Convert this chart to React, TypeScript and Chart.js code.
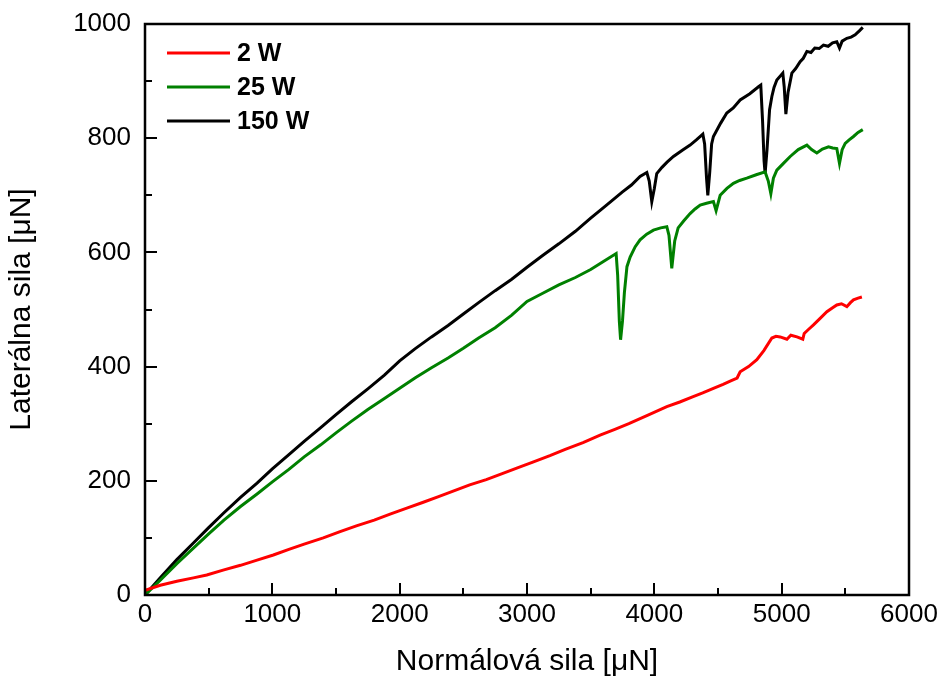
import React, { useEffect, useRef } from "react";
import { Chart, registerables } from "chart.js";

Chart.register(...registerables);

const seriesLabels = ["2 W", "25 W", "150 W"];
const seriesColors = ["#ff0000", "#008000", "#000000"];

const xTitle = "Normálová sila [μN]";
const yTitle = "Laterálna sila [μN]";

const xMin = 0;
const xMax = 6000;
const xStep = 1000;
const yMin = 0;
const yMax = 1000;
const yStep = 200;

const x2W = [0, 120, 250, 380, 485, 620, 750, 880, 1008, 1130, 1250, 1400, 1532, 1660, 1800, 1930, 2056, 2180, 2300, 2420, 2550, 2680, 2800, 2930, 3051, 3180, 3300, 3440, 3574, 3690, 3800, 3950, 4098, 4200, 4300, 4380, 4464, 4540, 4600, 4650, 4674, 4740, 4805, 4860, 4923, 4955, 4988, 5041, 5072, 5120, 5166, 5177, 5210, 5250, 5300, 5355, 5400, 5433, 5470, 5512, 5540, 5564, 5600, 5630];
const y2W = [8, 17, 24, 30, 35, 44, 52, 61, 70, 80, 89, 100, 111, 121, 131, 142, 152, 162, 172, 182, 193, 202, 212, 223, 233, 244, 255, 267, 280, 290, 300, 315, 330, 338, 347, 354, 362, 369, 375, 380, 391, 400, 412, 428, 450, 453, 452, 448, 455, 452, 448, 458, 465, 473, 484, 496, 503, 508, 510, 505, 512, 517, 520, 522];

const x25W = [0, 120, 250, 380, 500, 620, 750, 880, 1000, 1130, 1250, 1380, 1500, 1620, 1750, 1880, 2000, 2120, 2250, 2380, 2500, 2620, 2750, 2880, 3000, 3120, 3250, 3380, 3500, 3600, 3700, 3712, 3725, 3735, 3750, 3765, 3785, 3810, 3850, 3888, 3940, 3993, 4050, 4098, 4115, 4137, 4160, 4187, 4230, 4281, 4320, 4360, 4410, 4464, 4485, 4517, 4570, 4621, 4670, 4726, 4800, 4870, 4895, 4915, 4935, 4962, 5010, 5067, 5130, 5198, 5235, 5276, 5320, 5368, 5400, 5433, 5454, 5475, 5499, 5530, 5564, 5600, 5637];
const y25W = [0, 26, 55, 82, 107, 131, 155, 177, 198, 220, 242, 263, 284, 304, 325, 344, 362, 380, 398, 415, 432, 450, 468, 490, 514, 528, 543, 556, 570, 584, 598, 560, 480, 447, 480, 530, 575, 592, 610, 622, 632, 639, 643, 645, 630, 572, 620, 643, 655, 668, 676, 683, 686, 689, 673, 700, 712, 721, 726, 730, 736, 741, 725, 703, 730, 744, 755, 768, 780, 788, 780, 774, 781, 785, 783, 782, 756, 780, 791, 797, 803, 810, 815];

const x150W = [0, 120, 250, 380, 500, 620, 750, 880, 1000, 1130, 1250, 1380, 1500, 1620, 1750, 1880, 2000, 2120, 2250, 2380, 2500, 2620, 2750, 2880, 3000, 3120, 3250, 3380, 3500, 3620, 3750, 3820, 3888, 3941, 3960, 3980, 4000, 4019, 4060, 4100, 4150, 4220, 4281, 4330, 4381, 4395, 4410, 4420, 4435, 4450, 4464, 4520, 4569, 4620, 4674, 4750, 4818, 4836, 4850, 4862, 4870, 4885, 4905, 4923, 4940, 4962, 5009, 5020, 5033, 5050, 5080, 5110, 5145, 5170, 5198, 5230, 5260, 5295, 5328, 5365, 5400, 5433, 5454, 5475, 5512, 5545, 5577, 5610, 5637];
const y150W = [0, 30, 62, 91, 118, 144, 171, 196, 221, 246, 269, 293, 316, 338, 361, 385, 410, 431, 452, 472, 492, 512, 533, 553, 574, 594, 615, 637, 660, 682, 706, 718, 733, 740, 725, 689, 712, 738, 749, 758, 768, 779, 788, 797, 807, 790, 730, 700, 740, 790, 803, 826, 844, 853, 867, 878, 890, 893, 830, 760, 738, 780, 850, 873, 889, 902, 914, 890, 842, 880, 914, 922, 934, 940, 952, 950, 958, 957, 963, 961, 967, 969, 958, 970, 975, 977, 981, 988, 994];

const FONT = "'Liberation Sans', Arial, Helvetica, sans-serif";

const toPoints = (xs: number[], ys: number[]) => xs.map((x, i) => ({ x, y: ys[i] }));

const framePlugin = {
  id: "frameTicks",
  afterDatasetsDraw(chart: any) {
    const { ctx, chartArea: a, scales } = chart;
    const xs = scales.x;
    const ys = scales.y;
    ctx.save();
    ctx.strokeStyle = "#000";
    ctx.lineWidth = 2;
    ctx.beginPath();
    for (let v = xMin; v <= xMax; v += xStep / 2) {
      const px = Math.round(xs.getPixelForValue(v));
      const len = v % xStep === 0 ? 12 : 7;
      ctx.moveTo(px, a.bottom);
      ctx.lineTo(px, a.bottom - len);
    }
    for (let v = yMin; v <= yMax; v += yStep / 2) {
      const py = Math.round(ys.getPixelForValue(v));
      const len = v % yStep === 0 ? 12 : 7;
      ctx.moveTo(a.left, py);
      ctx.lineTo(a.left + len, py);
    }
    ctx.stroke();
    ctx.lineWidth = 2.5;
    ctx.strokeRect(a.left, a.top, a.right - a.left, a.bottom - a.top);
    ctx.restore();
  },
  afterDraw(chart: any) {
    const { ctx, chartArea: a } = chart;
    ctx.save();
    ctx.font = `bold 25px ${FONT}`;
    ctx.textBaseline = "middle";
    ctx.textAlign = "left";
    chart.data.datasets.forEach((ds: any, i: number) => {
      const yy = a.top + 29 + i * 34;
      ctx.strokeStyle = ds.borderColor;
      ctx.lineWidth = 3;
      ctx.beginPath();
      ctx.moveTo(a.left + 22, yy);
      ctx.lineTo(a.left + 85, yy);
      ctx.stroke();
      ctx.fillStyle = "#000";
      ctx.fillText(ds.label, a.left + 92, yy + 1);
    });
    ctx.restore();
  },
};

export default function App() {
  const ref = useRef<HTMLCanvasElement | null>(null);
  useEffect(() => {
    if (!ref.current) return;
    const series = [
      toPoints(x2W, y2W),
      toPoints(x25W, y25W),
      toPoints(x150W, y150W),
    ];
    const chart = new Chart(ref.current, {
      type: "scatter",
      data: {
        datasets: series.map((pts, i) => ({
          label: seriesLabels[i],
          data: pts,
          showLine: true,
          borderColor: seriesColors[i],
          backgroundColor: seriesColors[i],
          borderWidth: 3,
          pointRadius: 0,
          tension: 0,
        })),
      },
      options: {
        animation: false,
        responsive: false,
        devicePixelRatio: 1,
        layout: { padding: { top: 24, right: 31, left: 0, bottom: 0 } },
        plugins: {
          legend: { display: false },
          tooltip: { enabled: false },
        },
        scales: {
          x: {
            type: "linear",
            min: xMin,
            max: xMax,
            afterFit: (s: any) => {
              s.height = 87;
              s.paddingLeft = 0;
              s.paddingRight = 0;
              s.paddingTop = 0;
              s.paddingBottom = 0;
            },
            grid: { display: false, drawTicks: false },
            border: { display: false },
            ticks: {
              stepSize: xStep,
              padding: 4,
              color: "#000",
              font: { family: FONT, size: 26 },
              maxRotation: 0,
              callback: (v: any) => String(v),
            },
            title: {
              display: true,
              text: xTitle,
              color: "#000",
              font: { family: FONT, size: 30 },
              padding: { top: 0, bottom: 2 },
            },
          },
          y: {
            type: "linear",
            min: yMin,
            max: yMax,
            afterFit: (s: any) => {
              s.width = 145;
              s.paddingLeft = 0;
              s.paddingRight = 0;
              s.paddingTop = 0;
              s.paddingBottom = 0;
            },
            grid: { display: false, drawTicks: false },
            border: { display: false },
            ticks: {
              stepSize: yStep,
              padding: 14,
              color: "#000",
              font: { family: FONT, size: 26 },
              callback: (v: any) => String(v),
            },
            title: {
              display: true,
              text: yTitle,
              color: "#000",
              font: { family: FONT, size: 30 },
              padding: { top: 4, bottom: 0 },
            },
          },
        },
      },
      plugins: [framePlugin],
    });
    return () => chart.destroy();
  }, []);
  return (
    <div style={{ position: "fixed", left: 0, top: 0, width: 940, height: 682, background: "#fff" }}>
      <canvas ref={ref} width={940} height={682} style={{ width: 940, height: 682, display: "block" }} />
    </div>
  );
}
